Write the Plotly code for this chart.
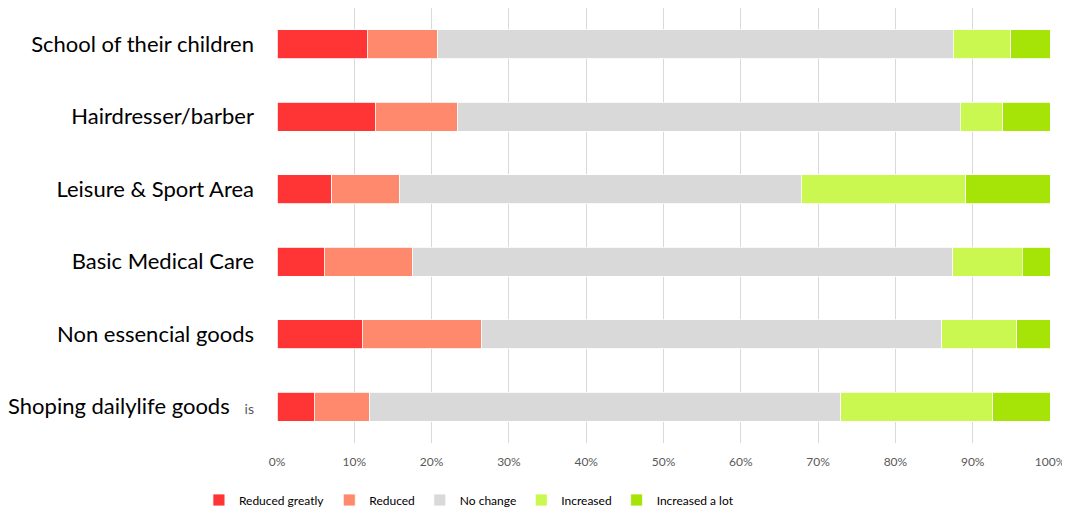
import plotly.graph_objects as go

categories = ["School of their children", "Hairdresser/barber", "Leisure & Sport Area",
              "Basic Medical Care", "Non essencial goods", "Shoping dailylife goods"]
series_names = ["Reduced greatly", "Reduced", "No change", "Increased", "Increased a lot"]
reduced_greatly = [11.7, 12.7, 7.1, 6.1, 11.0, 4.8]
reduced = [9.1, 10.6, 8.7, 11.4, 15.4, 7.2]
no_change = [66.7, 65.1, 52.0, 69.9, 59.6, 60.9]
increased = [7.4, 5.5, 21.3, 9.0, 9.7, 19.7]
increased_a_lot = [5.1, 6.1, 10.9, 3.6, 4.3, 7.4]
colors = ["#FF3535", "#FF896C", "#D9D9D9", "#CAF850", "#A6E306"]
tick_vals = [0, 10, 20, 30, 40, 50, 60, 70, 80, 90, 100]
tick_text = [f"{v}%" for v in tick_vals]

series = [reduced_greatly, reduced, no_change, increased, increased_a_lot]

ylabels = categories[:-1] + [categories[-1] + "  <span style='font-size:14px;color:#595959'> is</span>"]

fig = go.Figure()
for name, vals, col in zip(series_names, series, colors):
    fig.add_trace(go.Bar(
        y=ylabels, x=vals, name=name, orientation="h",
        marker=dict(color=col, line=dict(color="#FFFFFF", width=0.8)),
    ))

fig.update_layout(
    barmode="stack",
    bargap=0.6,
    width=1070, height=510,
    margin=dict(l=269, r=28, t=0, b=75),
    plot_bgcolor="white", paper_bgcolor="white",
    font=dict(family="Lato, Carlito, sans-serif", color="#000000"),
    legend=dict(orientation="h", x=-0.101, xanchor="left",
                y=-0.131, yanchor="middle",
                font=dict(size=12, color="#000000"), traceorder="normal",
                itemwidth=30),
    showlegend=True,
)
fig.update_xaxes(range=[0, 100], tickvals=tick_vals, ticktext=tick_text,
                 showgrid=True, gridcolor="#D9D9D9", gridwidth=1,
                 zeroline=False, tickfont=dict(size=12, color="#595959"),
                 ticks="", showline=False, ticklabelstandoff=10,
                 ticklabeloverflow="allow")
fig.update_yaxes(categoryorder="array", categoryarray=ylabels[::-1],
                 tickfont=dict(size=22, color="#000000"), ticklabelstandoff=22,
                 showgrid=False, showline=False, ticks="")

fig.write_html("out.html")
